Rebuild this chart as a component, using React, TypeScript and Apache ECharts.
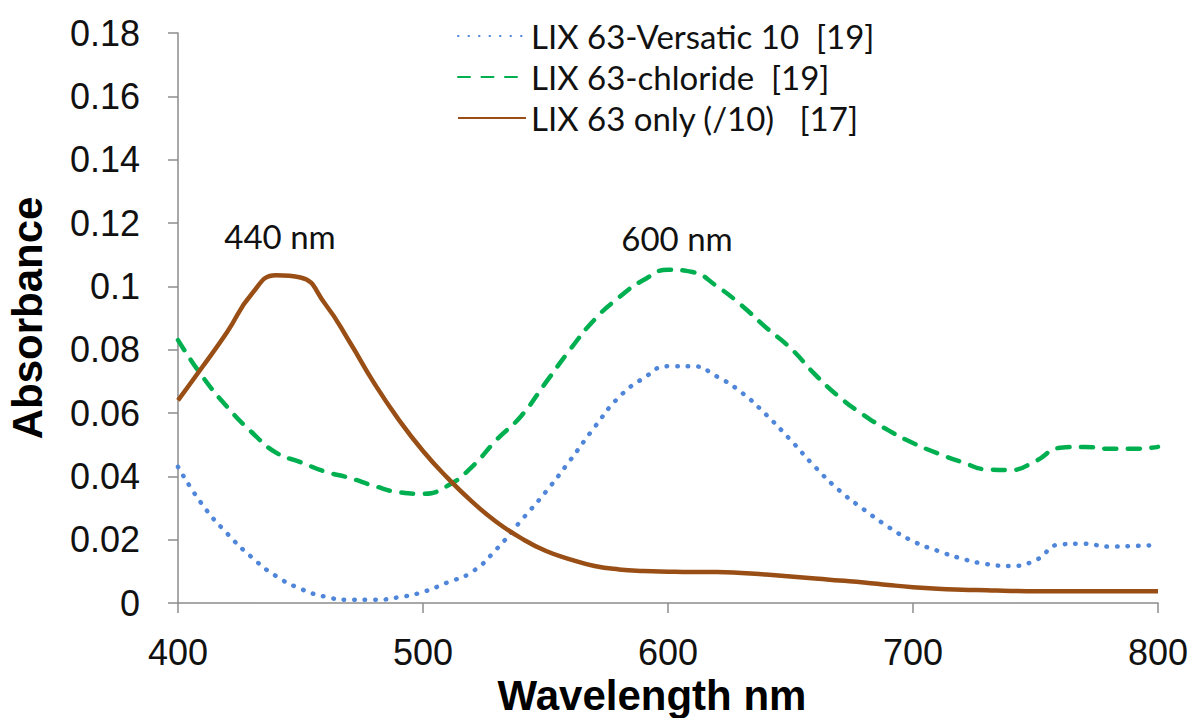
import React, { useEffect, useRef } from "react";
import * as echarts from "echarts";

const wavelengths = [400,410,420,430,440,450,460,470,480,490,500,510,520,530,540,550,560,570,580,590,600,610,620,630,640,650,660,670,680,690,700,710,720,730,740,750,760,770,780,790,800];

const versatic = [0.043,0.031,0.022,0.0145,0.0085,0.0045,0.002,0.001,0.001,0.0018,0.0035,0.0065,0.0098,0.017,0.026,0.035,0.045,0.0555,0.065,0.071,0.0748,0.0748,0.0715,0.0665,0.0595,0.0515,0.043,0.0355,0.0295,0.024,0.0195,0.0165,0.014,0.0123,0.0117,0.0135,0.0185,0.0187,0.0178,0.018,0.0183];

const chloride = [0.083,0.0715,0.062,0.054,0.0475,0.0445,0.0415,0.0395,0.037,0.035,0.0345,0.037,0.043,0.0515,0.059,0.0695,0.08,0.0895,0.0965,0.102,0.1052,0.1045,0.1,0.094,0.087,0.0805,0.0722,0.065,0.0593,0.0545,0.0505,0.0473,0.0445,0.0422,0.042,0.0448,0.049,0.0493,0.0487,0.0487,0.0493];

const lixOnly = [0.064,0.0746,0.0855,0.0975,0.1035,0.1028,0.0945,0.0825,0.0695,0.058,0.048,0.0395,0.032,0.0256,0.0205,0.0165,0.0138,0.0117,0.0106,0.0101,0.0099,0.0098,0.0098,0.0095,0.009,0.0084,0.0077,0.0071,0.0065,0.0057,0.005,0.0045,0.0042,0.004,0.0038,0.0037,0.0037,0.0037,0.0037,0.0037,0.0037];

const seriesNames = ["LIX 63-Versatic 10  [19]", "LIX 63-chloride  [19]", "LIX 63 only (/10)   [17]"];
const peakLabels = ["440 nm", "600 nm"];

const pair = (ys: number[]) => wavelengths.map((x, i) => [x, ys[i]]);

export default function App() {
  const ref = useRef<HTMLDivElement>(null);
  useEffect(() => {
    if (!ref.current) return;
    const chart = echarts.init(ref.current, null, { renderer: "svg" });
    const axisColor = "#8c8c8c";
    const tickFont = { fontFamily: "Liberation Sans", fontSize: 36, color: "#111" };
    chart.setOption({
      animation: false,
      backgroundColor: "#fff",
      grid: { left: 178, right: 37, top: 33, bottom: 115, containLabel: false, outerBoundsMode: "none" },
      legend: {
        orient: "vertical",
        left: 452,
        top: 14,
        itemWidth: 68,
        itemHeight: 14,
        itemGap: 7,
        itemStyle: { opacity: 0 },
        textStyle: { fontFamily: "Lato", fontSize: 33, color: "#111", lineHeight: 34 },
        data: seriesNames,
      },
      xAxis: {
        type: "value",
        min: 400,
        max: 800,
        interval: 100,
        name: "Wavelength nm",
        nameLocation: "middle",
        nameGap: 60,
        nameTextStyle: { fontFamily: "Liberation Sans", fontSize: 42, fontWeight: "bold", color: "#000", padding: [0, 32, 0, 0] },
        axisLine: { lineStyle: { color: axisColor, width: 1.5 } },
        axisTick: { show: true, length: 10, lineStyle: { color: axisColor, width: 1.5 } },
        axisLabel: { ...tickFont, margin: 31 },
        splitLine: { show: false },
      },
      yAxis: {
        type: "value",
        min: 0,
        max: 0.18,
        interval: 0.02,
        name: "Absorbance",
        nameLocation: "middle",
        nameGap: 130,
        nameTextStyle: { fontFamily: "Liberation Sans", fontSize: 42, fontWeight: "bold", color: "#000" },
        axisLine: { show: true, lineStyle: { color: axisColor, width: 1.5 } },
        axisTick: { show: true, length: 10, lineStyle: { color: axisColor, width: 1.5 } },
        axisLabel: { ...tickFont, margin: 38 },
        splitLine: { show: false },
      },
      graphic: [
        { type: "text", x: 280, y: 236, style: { text: peakLabels[0], fontFamily: "Lato", fontSize: 33, fill: "#111", align: "center", verticalAlign: "middle" } },
        { type: "text", x: 677, y: 238, style: { text: peakLabels[1], fontFamily: "Lato", fontSize: 33, fill: "#111", align: "center", verticalAlign: "middle" } },
      ],
      series: [
        {
          name: seriesNames[0],
          type: "line",
          data: pair(versatic),
          smooth: 0.5,
          symbol: "none",
          lineStyle: { color: "#4f86d9", width: 4.5, type: [0.5, 10], cap: "round" },
          itemStyle: { color: "#4f86d9" },
        },
        {
          name: seriesNames[1],
          type: "line",
          data: pair(chloride),
          smooth: 0.5,
          symbol: "none",
          lineStyle: { color: "#00b050", width: 4.5, type: [12, 11.5], cap: "round" },
          itemStyle: { color: "#00b050" },
        },
        {
          name: seriesNames[2],
          type: "line",
          data: pair(lixOnly),
          smooth: 0.5,
          symbol: "none",
          lineStyle: { color: "#984e14", width: 4.5 },
          itemStyle: { color: "#984e14" },
        },
      ],
    });
    return () => chart.dispose();
  }, []);
  return <div ref={ref} style={{ position: "fixed", left: 0, top: 0, width: 1195, height: 718, background: "#fff" }} />;
}
